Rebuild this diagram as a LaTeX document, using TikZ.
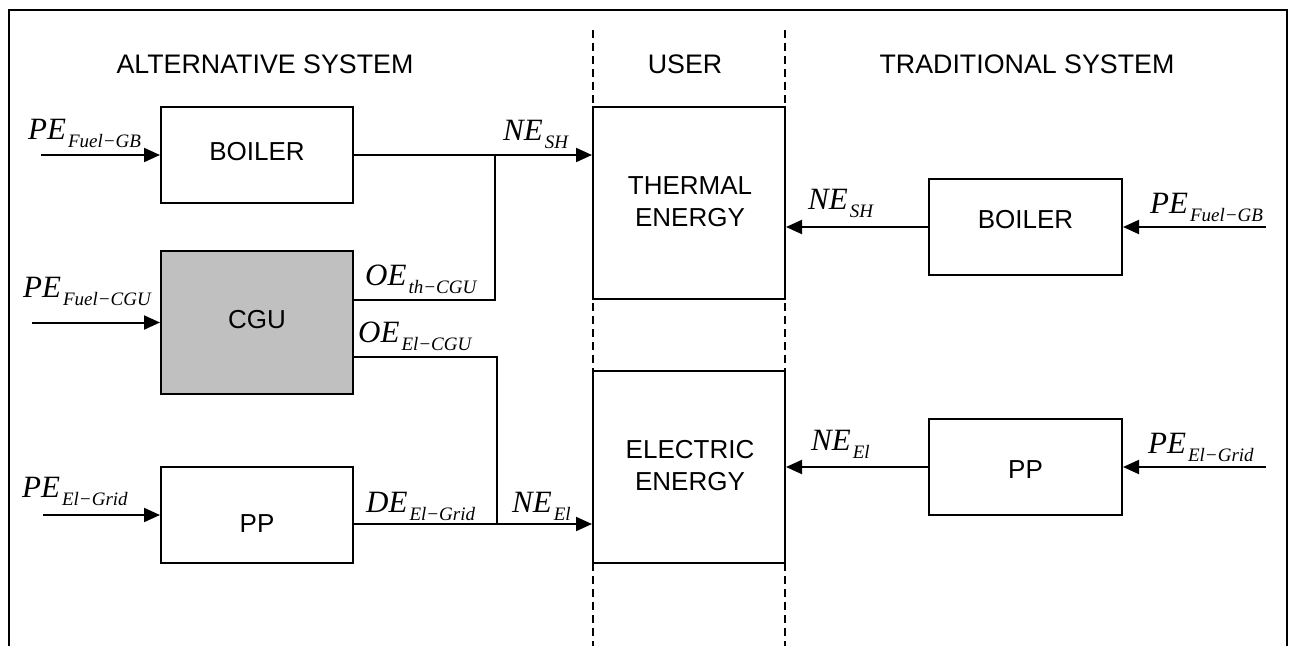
\documentclass[tikz,border=0pt]{standalone}
\usepackage{fontspec}
\setmainfont{Liberation Serif}
\setsansfont{Liberation Sans}
\usetikzlibrary{arrows.meta}
\newcommand{\enlab}[2]{{\fontsize{31}{31}\selectfont\itshape #1}\kern2pt\raisebox{-8pt}{\fontsize{19}{19}\selectfont\itshape #2}}
\tikzset{
  line/.style={line width=2pt},
  arr/.style={line width=2pt,-{Triangle[length=16pt,width=14pt]}},
  box/.style={draw,line width=2pt,minimum width=192pt,minimum height=96pt,inner sep=0pt},
  userbox/.style={draw,line width=2pt,minimum width=192pt,minimum height=192pt,inner sep=0pt},
  sep/.style={line width=2pt,dash pattern=on 8pt off 5pt},
  stxt/.style={font=\sffamily\fontsize{26}{32}\selectfont,inner sep=0pt,align=center},
  htxt/.style={font=\sffamily\fontsize{26.8}{32}\selectfont,inner sep=0pt},
  mlab/.style={anchor=base west,inner sep=0pt}
}
\begin{document}
\begin{tikzpicture}[x=1pt,y=-1pt]
\useasboundingbox (0,0) rectangle (1292,645);
\fill[white] (0,0) rectangle (1292,645);
% frame
\draw[line width=2pt] (9,646) -- (9,10) -- (1287,10) -- (1287,646);
% separators
\draw[sep] (593,30) -- (593,646);
\draw[sep] (785,30) -- (785,646);
% headers
\node[htxt,anchor=base] (hA) at (265,73) {ALTERNATIVE SYSTEM};
\node[htxt,anchor=base] (hU) at (685,73) {USER};
\node[htxt,anchor=base] (hT) at (1027,73) {TRADITIONAL SYSTEM};
% boxes
\node[box] (lb) at (257,155) {};
\node[box,fill={rgb,255:red,192;green,192;blue,192},minimum height=143pt] (cgu) at (257,322.5) {};
\node[box] (lpp) at (257,515) {};
\node[userbox] (th) at (689,203) {};
\node[userbox] (el) at (689,467) {};
\node[box,minimum width=193pt] (rb) at (1025.5,227) {};
\node[box,minimum width=193pt] (rpp) at (1025.5,467) {};
% box texts
\node[stxt] (lbt) at (257,152) {BOILER};
\node[stxt] (cgut) at (257,320) {CGU};
\node[stxt] (lppt) at (257,524) {PP};
\node[stxt] (tht) at (690,202) {THERMAL\\ENERGY};
\node[stxt] (elt) at (690,466) {ELECTRIC\\ENERGY};
\node[stxt] (rbt) at (1025.5,220) {BOILER};
\node[stxt] (rppt) at (1025.5,470) {PP};
% free ends and bends
\coordinate (s1) at (41,155);
\coordinate (s2) at (32,322.5);
\coordinate (s3) at (43,515);
\coordinate (s4) at (1266,227);
\coordinate (s5) at (1266,467);
\coordinate (jt) at (495,155);
\coordinate (thy) at (0,300);
\coordinate (ely) at (0,357);
\coordinate (je) at (497,524);
% connectors
\draw[arr] (s1) -- (lb.west);
\draw[arr] (s2) -- (cgu.west);
\draw[arr] (s3) -- (lpp.west);
\draw[arr] (lb.east) -- (lb.east -| th.west);
\draw[line] (cgu.east |- thy) -| (jt);
\draw[line] (cgu.east |- ely) -| (je);
\draw[arr] (lpp.east |- je) -- (je -| el.west);
\draw[arr] (rb.west) -- (rb.west -| th.east);
\draw[arr] (s4) -- (rb.east);
\draw[arr] (rpp.west) -- (rpp.west -| el.east);
\draw[arr] (s5) -- (rpp.east);
% labels
\node[mlab] (l1) at (28,139) {\enlab{PE}{Fuel−GB}};
\node[mlab] (l2) at (23,297) {\enlab{PE}{Fuel−CGU}};
\node[mlab] (l3) at (22,497) {\enlab{PE}{El−Grid}};
\node[mlab] (l4) at (503,140) {\enlab{NE}{SH}};
\node[mlab] (l5) at (365,285) {\enlab{OE}{th−CGU}};
\node[mlab] (l6) at (358,342) {\enlab{OE}{El−CGU}};
\node[mlab] (l7) at (366,512) {\enlab{DE}{El−Grid}};
\node[mlab] (l8) at (512,512) {\enlab{NE}{El}};
\node[mlab] (l9) at (808,209) {\enlab{NE}{SH}};
\node[mlab] (l10) at (1150,213) {\enlab{PE}{Fuel−GB}};
\node[mlab] (l11) at (811,450) {\enlab{NE}{El}};
\node[mlab] (l12) at (1148,453) {\enlab{PE}{El−Grid}};
\end{tikzpicture}
\end{document}
